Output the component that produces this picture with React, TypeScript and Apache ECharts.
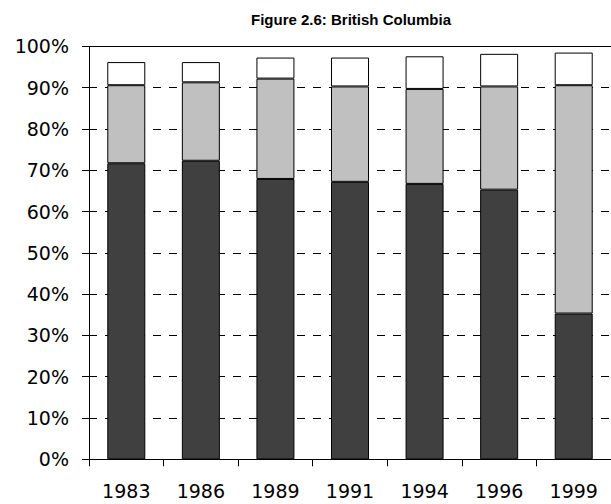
import React, { useEffect, useRef } from "react";
import * as echarts from "echarts";

const years = ["1983", "1986", "1989", "1991", "1994", "1996", "1999"];
const darkShare = [71.7, 72.3, 67.9, 67.2, 66.7, 65.3, 35.3];
const grayShare = [18.9, 19.0, 24.3, 23.1, 23.0, 25.0, 55.3];
const whiteShare = [5.6, 4.9, 5.1, 7.0, 7.9, 7.9, 7.9];
const titleText = "Figure 2.6: British Columbia";

export default function App() {
  const ref = useRef<HTMLDivElement>(null);
  useEffect(() => {
    if (!ref.current) return;
    const chart = echarts.init(ref.current, null, { renderer: "svg" });
    const labelFont = { fontFamily: "DejaVu Sans", fontSize: 19, color: "#000" };
    const barStyle = (color: string) => ({
      color,
      borderColor: "#000",
      borderWidth: 1,
    });
    chart.setOption({
      animation: false,
      backgroundColor: "#fff",
      title: {
        text: titleText,
        left: 346,
        top: 7,
        textAlign: "center",
        textStyle: {
          fontFamily: "Liberation Sans",
          fontWeight: "bold",
          fontSize: 15,
          color: "#000",
        },
      },
      grid: { left: 89, right: 0, top: 46.4, bottom: 44.7, containLabel: false },
      xAxis: [
        {
          type: "category",
          data: years,
          position: "bottom",
          axisLine: { show: true, lineStyle: { color: "#000", width: 1 } },
          axisTick: { show: true, inside: false, length: 7, lineStyle: { color: "#000" } },
          axisLabel: { ...labelFont, margin: 22 },
          splitLine: { show: false },
        },
        {
          type: "category",
          data: years,
          position: "top",
          axisLine: { show: true, lineStyle: { color: "#000", width: 1 } },
          axisTick: { show: false },
          axisLabel: { show: false },
          splitLine: { show: false },
        },
      ],
      yAxis: {
        type: "value",
        min: 0,
        max: 100,
        interval: 10,
        axisLine: { show: true, lineStyle: { color: "#000", width: 1 } },
        axisTick: { show: true, inside: false, length: 7, lineStyle: { color: "#000" } },
        axisLabel: { ...labelFont, margin: 20, formatter: "{value}%" },
        splitLine: {
          show: true,
          lineStyle: { color: "#000", width: 1, type: [8, 8] },
        },
      },
      series: [
        {
          name: "dark",
          type: "bar",
          stack: "total",
          barWidth: 38,
          data: darkShare,
          itemStyle: barStyle("#404040"),
        },
        {
          name: "gray",
          type: "bar",
          stack: "total",
          barWidth: 38,
          data: grayShare,
          itemStyle: barStyle("#C0C0C0"),
        },
        {
          name: "white",
          type: "bar",
          stack: "total",
          barWidth: 38,
          data: whiteShare,
          itemStyle: barStyle("#FFFFFF"),
        },
      ],
    });
    return () => chart.dispose();
  }, []);
  return (
    <div
      ref={ref}
      style={{ position: "fixed", left: 0, top: 0, width: 611, height: 504 }}
    />
  );
}
